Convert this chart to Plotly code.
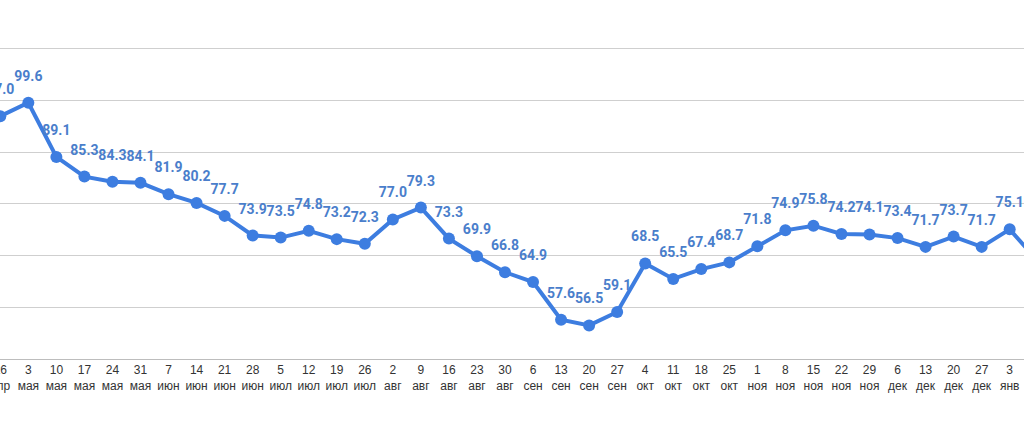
import plotly.graph_objects as go

days = ["26", "3", "10", "17", "24", "31", "7", "14", "21", "28", "5", "12", "19", "26",
        "2", "9", "16", "23", "30", "6", "13", "20", "27", "4", "11", "18", "25",
        "1", "8", "15", "22", "29", "6", "13", "20", "27", "3", "10"]
months = ["апр", "мая", "мая", "мая", "мая", "мая", "июн", "июн", "июн", "июн",
          "июл", "июл", "июл", "июл", "авг", "авг", "авг", "авг", "авг",
          "сен", "сен", "сен", "сен", "окт", "окт", "окт", "окт",
          "ноя", "ноя", "ноя", "ноя", "ноя", "дек", "дек", "дек", "дек", "янв", "янв"]
values = [97.0, 99.6, 89.1, 85.3, 84.3, 84.1, 81.9, 80.2, 77.7, 73.9, 73.5, 74.8, 73.2, 72.3,
          77.0, 79.3, 73.3, 69.9, 66.8, 64.9, 57.6, 56.5, 59.1, 68.5, 65.5, 67.4, 68.7,
          71.8, 74.9, 75.8, 74.2, 74.1, 73.4, 71.7, 73.7, 71.7, 75.1, 69.0]

idx = list(range(len(values)))
ticktext = [f"{d}<br>{m}" for d, m in zip(days, months)]
labels = [f"{v:.1f}" for v in values]

fig = go.Figure()
fig.add_trace(go.Scatter(
    x=idx, y=values, mode="lines+markers",
    line=dict(color="#3d7de0", width=4),
    marker=dict(color="#3d7de0", size=12),
    hoverinfo="skip",
))
fig.add_trace(go.Scatter(
    x=idx, y=values, mode="markers+text",
    marker=dict(color="rgba(0,0,0,0)", size=28),
    text=labels, textposition="top center",
    textfont=dict(family="Roboto", size=14, color="#4a7ecb", weight="bold"),
    hoverinfo="skip",
))

fig.update_layout(
    width=1024, height=446,
    margin=dict(l=0, r=0, t=0, b=87, autoexpand=False),
    paper_bgcolor="white", plot_bgcolor="white",
    showlegend=False,
)
fig.update_xaxes(
    range=[-0.0107, 36.51], automargin=False,
    tickmode="array", tickvals=idx, ticktext=ticktext,
    tickfont=dict(family="Liberation Sans, Arial", size=12, color="#333333"),
    ticklabeloverflow="allow",
    showgrid=False, showline=True, linecolor="#bdbdbd", linewidth=1,
    ticks="", zeroline=False,
)
fig.update_yaxes(
    range=[50, 119.48], dtick=10, tick0=50, automargin=False,
    showticklabels=False, showgrid=True, gridcolor="#cfcfcf", gridwidth=1,
    zeroline=False, showline=False,
)

fig.write_html(
    "out.html",
    config={"displayModeBar": False, "staticPlot": True},
    post_script="document.body.style.margin='0';document.body.style.overflow='hidden';",
)
